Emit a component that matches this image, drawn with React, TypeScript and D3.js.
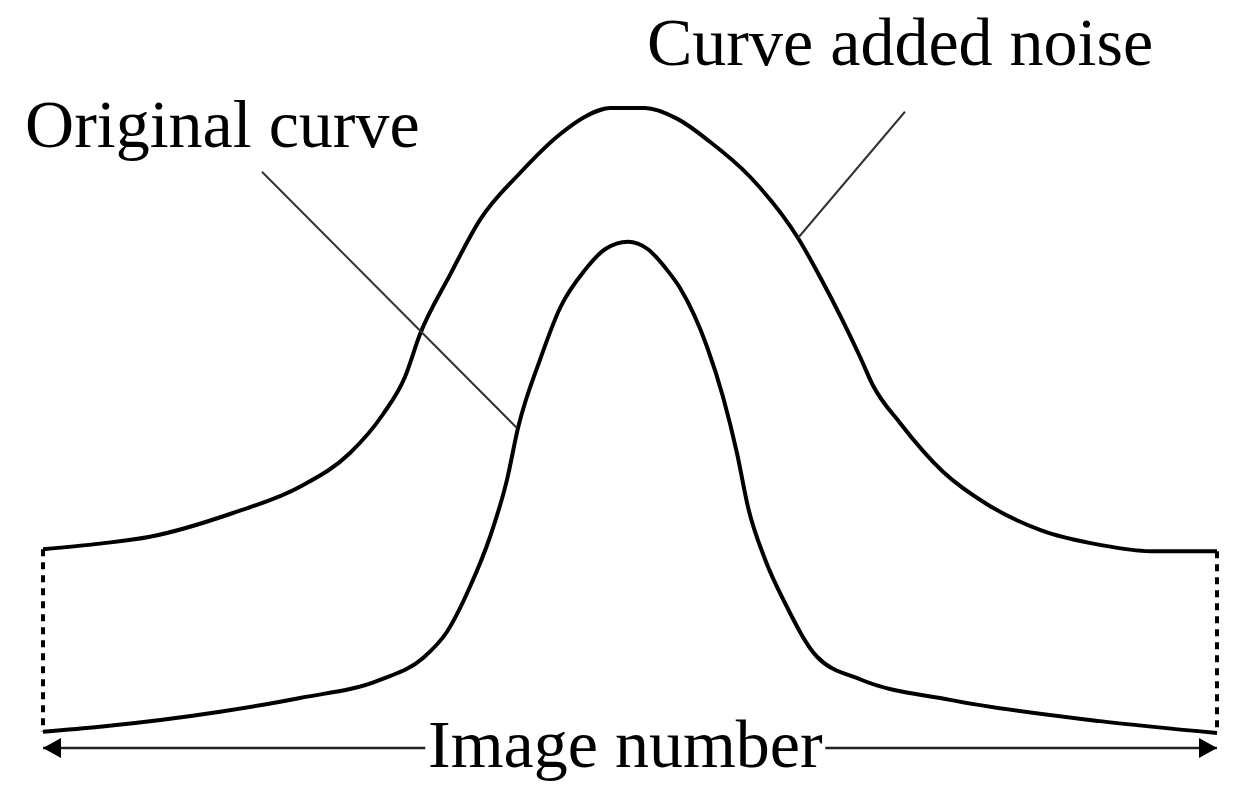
import React from 'react';
import * as d3 from 'd3';

// curve values (x = image number 0..100, y = relative value 0..100)
const noisyX = [0, 4.86, 9.11, 16.18, 21.89, 26.15, 28.96, 30.84, 32.11, 34.67, 37.22, 40.63, 44.04, 46.17, 48.3, 51.28, 54.0, 56.81, 60.22, 64.31, 66.35, 69.59, 70.7, 73.0, 76.66, 80.41, 84.92, 90.03, 94.29, 100];
const noisyY = [29.4, 30.3, 31.4, 35.2, 39.4, 44.8, 51.0, 57.0, 63.8, 73.3, 82.1, 89.6, 95.8, 98.6, 100, 100, 98.3, 94.6, 89.0, 79.2, 72.4, 60.2, 55.6, 49.6, 41.8, 36.6, 32.5, 30.1, 29.1, 29.1];

const originalX = [0, 4.86, 15.08, 21.89, 28.71, 32.37, 34.41, 36.37, 38.08, 39.52, 40.46, 42.33, 44.04, 46.17, 47.87, 49.83, 51.53, 53.15, 54.26, 56.56, 57.92, 59.11, 60.07, 61.5, 63.2, 65.93, 69.59, 77.26, 90.03, 100];
const originalY = [0.2, 1.0, 3.4, 5.6, 8.5, 12.0, 16.2, 23.4, 31.4, 40.5, 48.8, 59.7, 68.0, 74.1, 77.4, 78.6, 77.4, 74.1, 71.2, 61.8, 53.8, 44.8, 36.0, 27.8, 20.8, 12.2, 8.6, 5.3, 1.9, 0];

// leader lines: [label end, curve end] in data units
const originalLeader = [[18.65, 89.8], [40.37, 48.8]];
const noisyLeader = [[73.42, 99.4], [64.31, 79.2]];

const labels = ['Original curve', 'Curve added noise', 'Image number'];

const W = 1248;
const H = 811;

const App = () => {
  const x = d3.scaleLinear().domain([0, 100]).range([43, 1217]);
  const y = d3.scaleLinear().domain([0, 100]).range([733, 108]);

  const line = d3
    .line<[number, number]>()
    .x((d) => x(d[0]))
    .y((d) => y(d[1]))
    .curve(d3.curveMonotoneX);

  const noisy: [number, number][] = noisyX.map((v, i) => [v, noisyY[i]]);
  const original: [number, number][] = originalX.map((v, i) => [v, originalY[i]]);

  const axisY = y(-2.4);
  const labelW = 400;
  const cx = x(49.6);
  const font = '"Liberation Serif", "Times New Roman", serif';

  return (
    <svg
      width={W}
      height={H}
      style={{ position: 'absolute', left: 0, top: 0, background: '#fff' }}
    >
      <defs>
        <marker id='arr' viewBox='0 0 18 20' refX='18' refY='10' markerWidth='18' markerHeight='20' markerUnits='userSpaceOnUse' orient='auto-start-reverse'>
          <path d='M0,0 L18,10 L0,20 Z' fill='#000' />
        </marker>
      </defs>

      {/* dotted end lines */}
      <line x1={x(0)} x2={x(0)} y1={y(noisyY[0])} y2={y(originalY[0])} stroke='#000' strokeWidth={4} strokeDasharray='7 6' />
      <line x1={x(100)} x2={x(100)} y1={y(noisyY[noisyY.length - 1])} y2={y(originalY[originalY.length - 1])} stroke='#000' strokeWidth={4} strokeDasharray='7 6' />

      {/* curves */}
      <path d={line(noisy) || ''} fill='none' stroke='#000' strokeWidth={4} strokeLinejoin='round' />
      <path d={line(original) || ''} fill='none' stroke='#000' strokeWidth={4} strokeLinejoin='round' />

      {/* leaders */}
      <line x1={x(originalLeader[0][0])} y1={y(originalLeader[0][1])} x2={x(originalLeader[1][0])} y2={y(originalLeader[1][1])} stroke='#333' strokeWidth={2} />
      <line x1={x(noisyLeader[0][0])} y1={y(noisyLeader[0][1])} x2={x(noisyLeader[1][0])} y2={y(noisyLeader[1][1])} stroke='#333' strokeWidth={2} />

      {/* image number arrow */}
      <line x1={x(0)} x2={x(100)} y1={axisY} y2={axisY} stroke='#222' strokeWidth={2.5} markerStart='url(#arr)' markerEnd='url(#arr)' />
      <rect x={cx - labelW / 2} y={axisY - 10} width={labelW} height={20} fill='#fff' />

      <text x={x(-1.53)} y={y(93.8)} fontFamily={font} fontSize={68} fill='#000'>
        {labels[0]}
      </text>
      <text x={x(51.45)} y={y(106.9)} fontFamily={font} fontSize={68} fill='#000'>
        {labels[1]}
      </text>
      <text x={cx} y={y(-5.4)} fontFamily={font} fontSize={68} fill='#000' textAnchor='middle'>
        {labels[2]}
      </text>
    </svg>
  );
};

export default App;
